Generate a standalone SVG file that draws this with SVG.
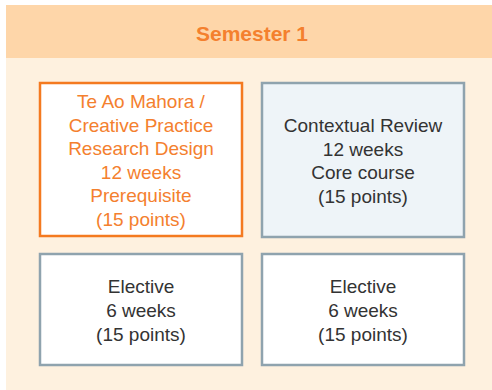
<svg xmlns="http://www.w3.org/2000/svg" width="492" height="390" viewBox="0 0 492 390">
<style>
.t{font-family:"Liberation Sans",Arial,sans-serif;font-size:19px;text-anchor:middle;fill:#333333}
.o{fill:#F4802E}
.box{fill:#ffffff;stroke:#8FA3AE;stroke-width:2.5}
</style>
<rect x="0" y="0" width="492" height="390" fill="#ffffff"/>
<rect x="6" y="58" width="486" height="332" fill="#FEF1DF"/>
<g id="header">
<rect x="6" y="5" width="486" height="53" fill="#FED6A9"/>
<text x="252" y="41" style="font-family:'Liberation Sans',Arial,sans-serif;font-size:21px;font-weight:bold;text-anchor:middle;fill:#F4802E">Semester 1</text>
</g>
<g id="node-te-ao-mahora">
<rect x="40" y="83" width="202" height="153" fill="#ffffff" stroke="#F47A20" stroke-width="2.5"/>
<text class="t o" x="141" y="108">Te Ao Mahora /</text>
<text class="t o" x="141" y="131.5">Creative Practice</text>
<text class="t o" x="141" y="155">Research Design</text>
<text class="t o" x="141" y="178.5">12 weeks</text>
<text class="t o" x="141" y="202">Prerequisite</text>
<text class="t o" x="141" y="225.5">(15 points)</text>
</g>
<g id="node-contextual-review">
<rect x="262" y="83" width="202" height="154" fill="#EEF4F8" stroke="#8FA3AE" stroke-width="2.5"/>
<text class="t" x="363" y="132">Contextual Review</text>
<text class="t" x="363" y="155.5">12 weeks</text>
<text class="t" x="363" y="179">Core course</text>
<text class="t" x="363" y="202.5">(15 points)</text>
</g>
<g id="node-elective-1">
<rect class="box" x="40" y="254" width="202" height="111"/>
<text class="t" x="141" y="293">Elective</text>
<text class="t" x="141" y="317">6 weeks</text>
<text class="t" x="141" y="341">(15 points)</text>
</g>
<g id="node-elective-2">
<rect class="box" x="262" y="254" width="202" height="111"/>
<text class="t" x="363" y="293">Elective</text>
<text class="t" x="363" y="317">6 weeks</text>
<text class="t" x="363" y="341">(15 points)</text>
</g>
<g id="connectors"></g>
</svg>
